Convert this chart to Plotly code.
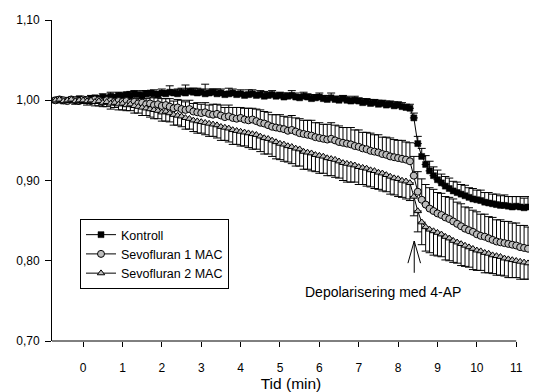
import plotly.graph_objects as go

time_min = [
    -0.7, -0.6, -0.5, -0.4, -0.3, -0.2, -0.1,
    0.0, 0.1, 0.2, 0.3, 0.4, 0.5, 0.6, 0.7, 0.8, 0.9,
    1.0, 1.1, 1.2, 1.3, 1.4, 1.5, 1.6, 1.7, 1.8, 1.9,
    2.0, 2.1, 2.2, 2.3, 2.4, 2.5, 2.6, 2.7, 2.8, 2.9,
    3.0, 3.1, 3.2, 3.3, 3.4, 3.5, 3.6, 3.7, 3.8, 3.9,
    4.0, 4.1, 4.2, 4.3, 4.4, 4.5, 4.6, 4.7, 4.8, 4.9,
    5.0, 5.1, 5.2, 5.3, 5.4, 5.5, 5.6, 5.7, 5.8, 5.9,
    6.0, 6.1, 6.2, 6.3, 6.4, 6.5, 6.6, 6.7, 6.8, 6.9,
    7.0, 7.1, 7.2, 7.3, 7.4, 7.5, 7.6, 7.7, 7.8, 7.9,
    8.0, 8.1, 8.2, 8.3, 8.4, 8.5, 8.6, 8.7, 8.8, 8.9,
    9.0, 9.1, 9.2, 9.3, 9.4, 9.5, 9.6, 9.7, 9.8, 9.9,
    10.0, 10.1, 10.2, 10.3, 10.4, 10.5, 10.6, 10.7, 10.8, 10.9,
    11.0, 11.1, 11.2, 11.3,
]

kontroll = [
    1.000, 1.001, 0.999, 1.000, 1.001, 1.000, 1.002,
    1.001, 1.000, 1.002, 1.003, 1.002, 1.004, 1.003, 1.005, 1.004, 1.006,
    1.005, 1.007, 1.006, 1.008, 1.007, 1.006, 1.008, 1.009, 1.008, 1.007,
    1.009, 1.008, 1.010, 1.009, 1.008, 1.010, 1.009, 1.011, 1.010, 1.009,
    1.010, 1.008, 1.009, 1.010, 1.008, 1.009, 1.007, 1.008, 1.009, 1.007,
    1.008, 1.006, 1.007, 1.008, 1.006, 1.007, 1.005, 1.006, 1.007, 1.005,
    1.006, 1.004, 1.005, 1.006, 1.004, 1.003, 1.005, 1.004, 1.002, 1.003,
    1.004, 1.002, 1.001, 1.003, 1.001, 1.000, 1.002, 1.000, 0.999, 1.000,
    0.999, 0.997, 0.998, 0.996, 0.997, 0.995, 0.996, 0.994, 0.995, 0.993,
    0.994, 0.992, 0.991, 0.990, 0.978, 0.946, 0.930, 0.920, 0.912, 0.906,
    0.901, 0.897, 0.893, 0.890, 0.887, 0.885, 0.883, 0.881, 0.879, 0.877,
    0.876, 0.875, 0.873, 0.872, 0.871, 0.870, 0.869, 0.869, 0.868, 0.867,
    0.868, 0.867, 0.866, 0.867,
]
kontroll_err = [
    0.001, 0.002, 0.002, 0.003, 0.002, 0.003, 0.002,
    0.003, 0.002, 0.004, 0.003, 0.003, 0.004, 0.003, 0.005, 0.003, 0.004,
    0.004, 0.003, 0.005, 0.004, 0.003, 0.006, 0.004, 0.003, 0.005, 0.004,
    0.005, 0.004, 0.008, 0.004, 0.006, 0.005, 0.010, 0.004, 0.005, 0.006,
    0.004, 0.012, 0.005, 0.004, 0.006, 0.005, 0.004, 0.007, 0.005, 0.004,
    0.005, 0.004, 0.006, 0.005, 0.004, 0.005, 0.006, 0.004, 0.005, 0.004,
    0.004, 0.005, 0.004, 0.006, 0.005, 0.004, 0.005, 0.004, 0.005, 0.004,
    0.005, 0.004, 0.005, 0.006, 0.004, 0.005, 0.004, 0.005, 0.004, 0.005,
    0.004, 0.005, 0.004, 0.005, 0.004, 0.005, 0.004, 0.005, 0.004, 0.005,
    0.004, 0.005, 0.004, 0.005, 0.006, 0.009, 0.010, 0.011, 0.012, 0.011,
    0.012, 0.011, 0.012, 0.013, 0.012, 0.013, 0.012, 0.013, 0.012, 0.013,
    0.012, 0.013, 0.012, 0.013, 0.012, 0.013, 0.012, 0.013, 0.012, 0.013,
    0.012, 0.013, 0.012, 0.013,
]

sevo1 = [
    1.000, 1.001, 1.000, 0.999, 1.001, 1.000, 0.999,
    1.001, 1.000, 0.999, 1.001, 1.000, 0.998, 1.000, 0.999, 0.998, 0.999,
    0.998, 0.999, 0.997, 0.998, 0.996, 0.997, 0.995, 0.996, 0.994, 0.995,
    0.993, 0.994, 0.992, 0.990, 0.991, 0.989, 0.988, 0.989, 0.986, 0.985,
    0.984, 0.985, 0.983, 0.982, 0.983, 0.981, 0.979, 0.980, 0.978, 0.977,
    0.978, 0.976, 0.975, 0.976, 0.974, 0.972, 0.971, 0.969, 0.967, 0.966,
    0.965, 0.964, 0.962, 0.963, 0.961, 0.959, 0.958, 0.957, 0.956, 0.954,
    0.953, 0.952, 0.951, 0.952, 0.950, 0.948, 0.947, 0.946, 0.945, 0.943,
    0.942, 0.940, 0.939, 0.937, 0.936, 0.935, 0.933, 0.932, 0.930, 0.929,
    0.928, 0.927, 0.926, 0.924, 0.906, 0.886, 0.876, 0.870, 0.865, 0.862,
    0.859, 0.857, 0.854, 0.852, 0.849, 0.846, 0.843, 0.840, 0.838, 0.836,
    0.833, 0.831, 0.830, 0.828, 0.826, 0.824, 0.823, 0.822, 0.821, 0.820,
    0.819, 0.817, 0.816, 0.815,
]
sevo1_err = [
    0.001, 0.002, 0.001, 0.002, 0.002, 0.003, 0.002,
    0.003, 0.002, 0.004, 0.003, 0.004, 0.003, 0.005, 0.004, 0.005, 0.004,
    0.005, 0.006, 0.005, 0.007, 0.006, 0.008, 0.007, 0.008, 0.009, 0.008,
    0.009, 0.008, 0.010, 0.009, 0.010, 0.011, 0.010, 0.011, 0.010, 0.012,
    0.011, 0.012, 0.011, 0.013, 0.012, 0.013, 0.012, 0.014, 0.013, 0.014,
    0.013, 0.014, 0.015, 0.014, 0.015, 0.016, 0.015, 0.016, 0.015, 0.016,
    0.017, 0.016, 0.017, 0.018, 0.017, 0.018, 0.017, 0.018, 0.019, 0.018,
    0.019, 0.018, 0.019, 0.020, 0.019, 0.020, 0.019, 0.020, 0.021, 0.020,
    0.021, 0.020, 0.021, 0.022, 0.021, 0.022, 0.021, 0.022, 0.023, 0.022,
    0.022, 0.023, 0.022, 0.023, 0.024, 0.025, 0.026, 0.025, 0.026, 0.027,
    0.026, 0.027, 0.026, 0.027, 0.028, 0.027, 0.028, 0.027, 0.028, 0.027,
    0.028, 0.027, 0.028, 0.027, 0.028, 0.027, 0.028, 0.027, 0.028, 0.027,
    0.028, 0.027, 0.028, 0.027,
]

sevo2 = [
    1.000, 1.001, 0.999, 1.000, 1.001, 0.999, 1.000,
    1.000, 0.999, 1.000, 0.998, 0.999, 0.997, 0.998, 0.996, 0.997, 0.995,
    0.996, 0.994, 0.995, 0.993, 0.992, 0.991, 0.990, 0.989, 0.988, 0.987,
    0.985, 0.986, 0.984, 0.982, 0.981, 0.980, 0.978, 0.977, 0.975, 0.974,
    0.973, 0.972, 0.971, 0.970, 0.969, 0.967, 0.966, 0.965, 0.963, 0.962,
    0.961, 0.960, 0.959, 0.958, 0.957, 0.955, 0.953, 0.952, 0.950, 0.948,
    0.946, 0.945, 0.943, 0.942, 0.940, 0.939, 0.936, 0.935, 0.934, 0.932,
    0.931, 0.930, 0.928, 0.927, 0.926, 0.924, 0.922, 0.921, 0.920, 0.919,
    0.917, 0.916, 0.915, 0.913, 0.912, 0.910, 0.909, 0.907, 0.905, 0.903,
    0.902, 0.900, 0.899, 0.897, 0.880, 0.862, 0.848, 0.842, 0.839, 0.837,
    0.835, 0.833, 0.830, 0.828, 0.825, 0.823, 0.821, 0.819, 0.817, 0.815,
    0.813, 0.812, 0.810, 0.809, 0.807, 0.806, 0.805, 0.803, 0.802, 0.801,
    0.800, 0.799, 0.798, 0.797,
]
sevo2_err = [
    0.002, 0.003, 0.002, 0.003, 0.003, 0.004, 0.003,
    0.004, 0.005, 0.004, 0.005, 0.006, 0.005, 0.006, 0.007, 0.006, 0.007,
    0.008, 0.007, 0.008, 0.009, 0.008, 0.010, 0.009, 0.010, 0.011, 0.010,
    0.011, 0.012, 0.011, 0.013, 0.012, 0.013, 0.014, 0.013, 0.014, 0.015,
    0.014, 0.015, 0.016, 0.015, 0.016, 0.017, 0.016, 0.017, 0.018, 0.017,
    0.018, 0.017, 0.018, 0.019, 0.018, 0.019, 0.020, 0.019, 0.020, 0.021,
    0.020, 0.021, 0.020, 0.021, 0.022, 0.021, 0.022, 0.021, 0.022, 0.021,
    0.022, 0.021, 0.022, 0.021, 0.022, 0.021, 0.022, 0.023, 0.022, 0.021,
    0.022, 0.021, 0.022, 0.021, 0.022, 0.021, 0.022, 0.021, 0.022, 0.021,
    0.022, 0.021, 0.022, 0.022, 0.024, 0.026, 0.028, 0.030, 0.029, 0.030,
    0.029, 0.028, 0.029, 0.028, 0.027, 0.026, 0.027, 0.026, 0.025, 0.026,
    0.025, 0.024, 0.025, 0.024, 0.023, 0.024, 0.023, 0.022, 0.023, 0.022,
    0.021, 0.022, 0.021, 0.020,
]

x_ticks = [0, 1, 2, 3, 4, 5, 6, 7, 8, 9, 10, 11]
y_ticks = [0.70, 0.80, 0.90, 1.00, 1.10]
y_ticklabels = ["0,70", "0,80", "0,90", "1,00", "1,10"]

series_names = ["Kontroll", "Sevofluran 1 MAC", "Sevofluran 2 MAC"]
annotation_text = "Depolarisering med 4-AP"
x_title = "Tid (min)"

FONT = "Liberation Sans, Arial, sans-serif"
zeros = [0] * len(time_min)

fig = go.Figure()

fig.add_trace(go.Scatter(
    x=time_min, y=kontroll, name=series_names[0], mode="lines+markers",
    line=dict(color="black", width=1),
    marker=dict(symbol="square", size=6, color="black", line=dict(color="black", width=0.5)),
    error_y=dict(type="data", symmetric=False, array=kontroll_err, arrayminus=zeros,
                 color="black", thickness=1, width=4),
))
fig.add_trace(go.Scatter(
    x=time_min, y=sevo1, name=series_names[1], mode="lines+markers",
    line=dict(color="black", width=1),
    marker=dict(symbol="circle", size=7, color="#bdbdbd", line=dict(color="black", width=1)),
    error_y=dict(type="data", symmetric=False, array=sevo1_err, arrayminus=zeros,
                 color="black", thickness=1, width=4),
))
fig.add_trace(go.Scatter(
    x=time_min, y=sevo2, name=series_names[2], mode="lines+markers",
    line=dict(color="black", width=1),
    marker=dict(symbol="triangle-up", size=6.5, color="#bdbdbd", line=dict(color="black", width=1)),
    error_y=dict(type="data", symmetric=False, array=zeros, arrayminus=sevo2_err,
                 color="black", thickness=1, width=4),
))

x_min, x_max = -0.79, 11.35

shapes = [
    # bottom axis line (ends at 11 like the original)
    dict(type="line", xref="x", yref="paper", x0=x_min, x1=11, y0=0, y1=0,
         line=dict(color="black", width=1)),
    # arrow stem and open head
    dict(type="line", xref="x", yref="y", x0=8.41, x1=8.41, y0=0.785, y1=0.8246,
         line=dict(color="black", width=1)),
    dict(type="line", xref="x", yref="y", x0=8.41, x1=8.25, y0=0.8246, y1=0.797,
         line=dict(color="black", width=1)),
    dict(type="line", xref="x", yref="y", x0=8.41, x1=8.57, y0=0.8246, y1=0.797,
         line=dict(color="black", width=1)),
]

# the page body has an 8px margin, so the figure is sized and offset to compensate
fig.update_layout(
    width=529, height=384,
    margin=dict(l=44, r=7, t=12, b=51, autoexpand=False),
    paper_bgcolor="white", plot_bgcolor="white",
    font=dict(family=FONT, size=12, color="black"),
    showlegend=True,
    legend=dict(
        x=28 / 478, y=0.38, xanchor="left", yanchor="top",
        bordercolor="black", borderwidth=1, bgcolor="white",
        font=dict(family=FONT, size=12.5, color="black"),
        tracegroupgap=0,
    ),
    shapes=shapes,
    annotations=[dict(
        x=7.62, y=0.761, xref="x", yref="y", text=annotation_text, showarrow=False,
        font=dict(family=FONT, size=14, color="black"), xanchor="center", yanchor="middle",
    )],
    xaxis=dict(
        range=[x_min, x_max], tickvals=x_ticks, ticks="outside", ticklen=5,
        tickcolor="black", showline=False, showgrid=False, zeroline=False,
        ticklabelstandoff=11, automargin=False,
        title=dict(text=x_title, font=dict(family=FONT, size=15.5), standoff=17),
    ),
    yaxis=dict(
        range=[0.70, 1.10], tickvals=y_ticks, ticktext=y_ticklabels, ticks="outside",
        ticklen=6, tickcolor="black", showline=True, linecolor="black", linewidth=1,
        showgrid=False, zeroline=False, ticklabelstandoff=3, automargin=False,
    ),
)

fig.write_html("out.html")
